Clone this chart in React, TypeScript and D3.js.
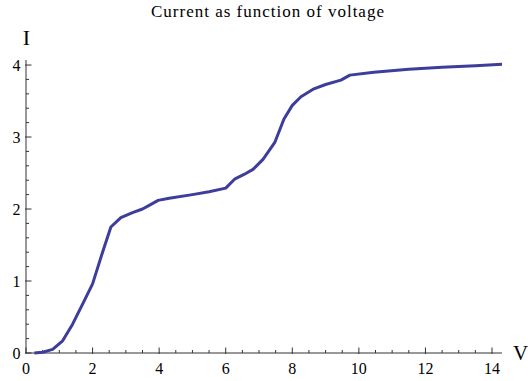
import { useEffect, useRef } from "react";
import * as d3 from "d3";

// voltage (V) and current (I)
const voltage = [0.25, 0.5, 0.8, 1.1, 1.4, 1.7, 2.0, 2.3, 2.55, 2.85, 3.2, 3.5, 3.7, 3.97, 4.3, 5.0, 5.5, 6.0, 6.28, 6.55, 6.82, 7.12, 7.48, 7.75, 8.0, 8.26, 8.65, 9.0, 9.46, 9.73, 10.45, 11.5, 12.5, 13.5, 14.3];
const current = [0, 0.01, 0.05, 0.17, 0.4, 0.68, 0.96, 1.4, 1.75, 1.88, 1.95, 2.0, 2.05, 2.12, 2.15, 2.2, 2.24, 2.29, 2.42, 2.48, 2.55, 2.69, 2.93, 3.25, 3.44, 3.56, 3.67, 3.73, 3.79, 3.86, 3.9, 3.94, 3.97, 3.99, 4.01];
const xTicks = [0, 2, 4, 6, 8, 10, 12, 14];
const yTicks = [0, 1, 2, 3, 4];

export default function App() {
  const svgRef = useRef<SVGSVGElement>(null);

  useEffect(() => {
    const svg = d3.select(svgRef.current);
    svg.selectAll("*").remove();

    const width = 528;
    const height = 381;
    const x = d3.scaleLinear().domain([0, 14.3]).range([26, 502]);
    const y = d3.scaleLinear().domain([0, 4.07]).range([353, 60]);
    const font = "Liberation Serif, serif";

    svg.attr("width", width).attr("height", height);

    const g = svg.append("g");

    // axis lines
    g.append("line")
      .attr("x1", x(0)).attr("x2", x(14.3))
      .attr("y1", y(0)).attr("y2", y(0))
      .attr("stroke", "#333").attr("stroke-width", 1);
    g.append("line")
      .attr("x1", x(0)).attr("x2", x(0))
      .attr("y1", y(0)).attr("y2", y(4.07))
      .attr("stroke", "#333").attr("stroke-width", 1);

    // x ticks
    const xMinor = d3.range(0, 14.3, 0.5).filter(v => v % 2 !== 0);
    g.selectAll(".xminor").data(xMinor).enter().append("line")
      .attr("x1", d => x(d)).attr("x2", d => x(d))
      .attr("y1", y(0)).attr("y2", y(0) - 3)
      .attr("stroke", "#333");
    g.selectAll(".xmajor").data(xTicks).enter().append("line")
      .attr("x1", d => x(d)).attr("x2", d => x(d))
      .attr("y1", y(0) + 1).attr("y2", y(0) - 5.5)
      .attr("stroke", "#333");
    g.selectAll(".xlabel").data(xTicks).enter().append("text")
      .attr("x", d => x(d)).attr("y", 374)
      .attr("text-anchor", "middle")
      .attr("font-family", font).attr("font-size", 16)
      .text(d => d);

    // y ticks
    const yMinor = d3.range(0, 4.07, 0.2).filter(v => Math.abs(v - Math.round(v)) > 0.01);
    g.selectAll(".yminor").data(yMinor).enter().append("line")
      .attr("x1", x(0)).attr("x2", x(0) + 3)
      .attr("y1", d => y(d)).attr("y2", d => y(d))
      .attr("stroke", "#333");
    g.selectAll(".ymajor").data(yTicks).enter().append("line")
      .attr("x1", x(0) - 1).attr("x2", x(0) + 5.5)
      .attr("y1", d => y(d)).attr("y2", d => y(d))
      .attr("stroke", "#333");
    g.selectAll(".ylabel").data(yTicks).enter().append("text")
      .attr("x", 20.5).attr("y", d => y(d) + 5.5)
      .attr("text-anchor", "end")
      .attr("font-family", font).attr("font-size", 16)
      .text(d => d);

    // curve
    const pts = voltage.map((v, i) => [v, current[i]] as [number, number]);
    const line = d3.line<[number, number]>()
      .x(d => x(d[0]))
      .y(d => y(d[1]));
    g.append("path")
      .attr("d", line(pts))
      .attr("fill", "none")
      .attr("stroke", "#3d3d9c")
      .attr("stroke-width", 3)
      .attr("stroke-linejoin", "round");

    // labels
    g.append("text")
      .attr("x", 268).attr("y", 17)
      .attr("text-anchor", "middle")
      .attr("font-family", font).attr("font-size", 17)
      .attr("letter-spacing", 1)
      .text("Current as function of voltage");
    g.append("text")
      .attr("x", 26.5).attr("y", 45)
      .attr("text-anchor", "middle")
      .attr("font-family", font).attr("font-size", 22)
      .text("I");
    g.append("text")
      .attr("x", 513).attr("y", 360)
      .attr("font-family", font).attr("font-size", 21)
      .text("V");
  }, []);

  return (
    <svg ref={svgRef} style={{ position: "absolute", left: 0, top: 0, background: "#fff" }}></svg>
  );
}
